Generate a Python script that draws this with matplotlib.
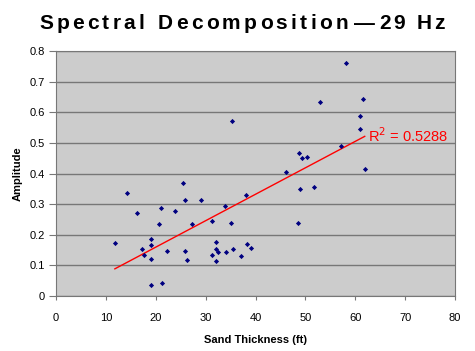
import matplotlib
matplotlib.use("Agg")
import matplotlib.pyplot as plt
import numpy as np

# Values
sand_ft = [11.8, 14.2, 16.2, 17.3, 17.7, 19.1, 19.1, 19.1, 19.1, 20.7,
           21.0, 21.3, 22.3, 23.8, 25.4, 25.8, 25.9, 26.3, 27.3, 29.1,
           31.3, 31.3, 32.1, 32.1, 32.5, 32.1, 33.9, 34.1, 35.3, 35.1,
           35.5, 37.1, 38.1, 38.3, 39.1,
           58.1, 52.9, 61.6, 61.0, 61.0, 57.2, 48.8, 49.4, 50.3, 46.1,
           61.9, 49.0, 51.8, 48.6]
amplitude = [0.172, 0.337, 0.272, 0.154, 0.135, 0.187, 0.168, 0.122, 0.035, 0.235,
             0.286, 0.041, 0.148, 0.278, 0.368, 0.146, 0.312, 0.119, 0.235, 0.312,
             0.245, 0.135, 0.175, 0.155, 0.143, 0.115, 0.294, 0.145, 0.571, 0.238,
             0.152, 0.132, 0.331, 0.171, 0.158,
             0.762, 0.634, 0.644, 0.588, 0.544, 0.489, 0.466, 0.450, 0.454, 0.405,
             0.415, 0.350, 0.355, 0.238]
r2_label = "R$^2$ = 0.5288"
title_parts = ["Spectral", "Decomposition", "\u2014", "29", "Hz"]

x = np.array(sand_ft)
y = np.array(amplitude)
slope, intercept = np.polyfit(x, y, deg=1)
xfit = np.array([x.min(), x.max()])
yfit = slope * xfit + intercept

plt.rcParams["font.family"] = ["Liberation Sans", "DejaVu Sans"]

W, H = 475, 351
fig = plt.figure(figsize=(W / 100, H / 100), dpi=100)
ax = fig.add_axes([56 / W, 55 / H, 399 / W, 245 / H])
ax.set_facecolor("#cccccc")

ax.scatter(x, y, s=7, marker="D", color="#000080", zorder=3, linewidths=0)
ax.plot(xfit, yfit, color="#ff0000", lw=1.0, zorder=2)
ax.annotate(r2_label, (xfit[1], yfit[1]), xytext=(2, -4), textcoords="offset points",
            color="#ff0000", fontsize=10.5, ha="left", va="baseline")

ax.set_xlim(0, 80)
ax.set_ylim(0, 0.8)
ax.set_xticks(np.arange(0, 81, 10))
ax.set_yticks(np.arange(0, 0.81, 0.1))
ax.set_yticklabels(["0"] + [f"{v:.1f}" for v in np.arange(0.1, 0.81, 0.1)])
ax.grid(axis="y", color="#777777", lw=1.0)
ax.set_axisbelow(True)
for s in ax.spines.values():
    s.set_color("#777777")
ax.tick_params(labelsize=8, color="#777777", direction="out")
ax.tick_params(axis="x", length=3, pad=9)
ax.tick_params(axis="y", length=5, pad=3)

ax.set_xlabel("Sand Thickness (ft)", fontsize=8, fontweight="bold", labelpad=9)
ax.set_ylabel("Amplitude", fontsize=8, fontweight="bold", labelpad=5)

# letter-spaced title: uniform gap inside words, fixed gaps between words,
# stretched to span 39..445 px like the original
renderer = fig.canvas.get_renderer()
tkw = dict(fontsize=15, fontweight="bold", va="baseline", ha="left")
between = [13, 6, 4, 11]
texts = [[fig.text(0, 0, ch, **tkw) for ch in word] for word in title_parts]
inks = [[t.get_window_extent(renderer).width for t in word] for word in texts]
n_inner = sum(len(w) - 1 for w in title_parts)
gap = (445 - 39 - sum(map(sum, inks)) - sum(between)) / n_inner
xpos = 39
for i, (word, ws) in enumerate(zip(texts, inks)):
    for j, (t, w) in enumerate(zip(word, ws)):
        t.set_position((xpos / W, 1 - 29 / H))
        xpos += w + (gap if j < len(word) - 1 else 0)
    if i < len(between):
        xpos += between[i]

fig.savefig("out.png", dpi=100)
